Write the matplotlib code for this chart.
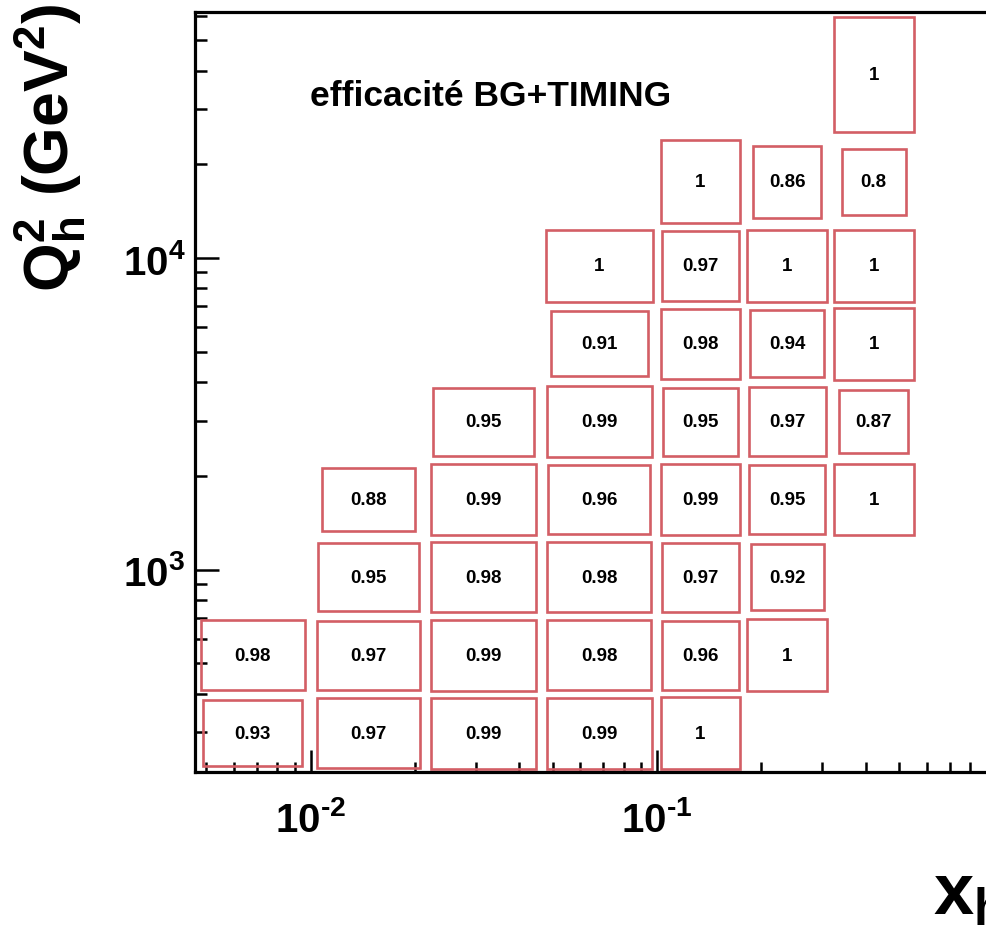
import numpy as np
import matplotlib
matplotlib.use("Agg")
import matplotlib.pyplot as plt
from matplotlib.patches import Rectangle
from matplotlib.ticker import LogLocator, NullFormatter, FixedLocator, FixedFormatter

# ---------------- data ----------------
x_edges = [0.00464, 0.0100, 0.0215, 0.0464, 0.100, 0.178, 0.316, 0.562]
q2_edges = [224, 398, 708, 1259, 2239, 3981, 7079, 12589, 24547, 61660]

# efficiency per (Q2 row from bottom, x column from left); None = empty cell
eff = [
    [0.93, 0.97, 0.99, 0.99, 1.00, None, None],
    [0.98, 0.97, 0.99, 0.98, 0.96, 1.00, None],
    [None, 0.95, 0.98, 0.98, 0.97, 0.92, None],
    [None, 0.88, 0.99, 0.96, 0.99, 0.95, 1.00],
    [None, None, 0.95, 0.99, 0.95, 0.97, 0.87],
    [None, None, None, 0.91, 0.98, 0.94, 1.00],
    [None, None, None, 1.00, 0.97, 1.00, 1.00],
    [None, None, None, None, 1.00, 0.86, 0.80],
    [None, None, None, None, None, None, 1.00],
]

x_ticks = [0.01, 0.1]
x_ticklabels = ["$\\mathbf{10^{\u2010 2}}$", "$\\mathbf{10^{\u2010 1}}$"]
y_ticks = [1000, 10000]
y_ticklabels = [r"$\mathbf{10^{3}}$", r"$\mathbf{10^{4}}$"]
title_text = "efficacité BG+TIMING"
xlabel_text = r"$\mathbf{x_{h}}$"
ylabel_text = r"$\mathbf{Q_{h}^{2}\ (GeV^{2})}$"

# ---------------- style ----------------
plt.rcParams["font.family"] = ["Liberation Sans", "DejaVu Sans"]
plt.rcParams["font.weight"] = "bold"
plt.rcParams["mathtext.fontset"] = "custom"
plt.rcParams["mathtext.rm"] = "Liberation Sans:bold"
plt.rcParams["mathtext.bf"] = "Liberation Sans:bold"
plt.rcParams["mathtext.it"] = "Liberation Sans:bold"
plt.rcParams["axes.unicode_minus"] = False

BOX_SCALE = 0.92
BOX_COLOR = "#d35e65"

W, H = 986, 928
fig = plt.figure(figsize=(W / 100, H / 100), dpi=100)
ax_left, ax_right, ax_top, ax_bot = 195, 1003.7, 13, 773
ax = fig.add_axes([ax_left / W, (H - ax_bot) / H, (ax_right - ax_left) / W, (ax_bot - ax_top) / H])
ax.set_xscale("log")
ax.set_yscale("log")
ax.set_xlim(x_edges[0], 1.0)
ax.set_ylim(q2_edges[0], q2_edges[-1])

lx = np.log10(x_edges)
ly = np.log10(q2_edges)
for i, row in enumerate(eff):
    for j, v in enumerate(row):
        if v is None:
            continue
        cx = 0.5 * (lx[j] + lx[j + 1])
        cy = 0.5 * (ly[i] + ly[i + 1])
        hx = 0.5 * (lx[j + 1] - lx[j]) * BOX_SCALE * v
        hy = 0.5 * (ly[i + 1] - ly[i]) * BOX_SCALE * v
        x0, x1 = 10 ** (cx - hx), 10 ** (cx + hx)
        y0, y1 = 10 ** (cy - hy), 10 ** (cy + hy)
        ax.add_patch(Rectangle((x0, y0), x1 - x0, y1 - y0, fill=False,
                               edgecolor=BOX_COLOR, linewidth=1.9, zorder=2))
        ax.text(10 ** cx, 10 ** cy, f"{v:g}", ha="center", va="center",
                fontsize=13.5, fontweight="bold", color="black", zorder=3)

# spines
for s in ["left", "bottom", "top", "right"]:
    ax.spines[s].set_linewidth(2.3)
    ax.spines[s].set_color("black")

# ticks
ax.xaxis.set_major_locator(FixedLocator(x_ticks))
ax.xaxis.set_major_formatter(FixedFormatter(x_ticklabels))
ax.yaxis.set_major_locator(FixedLocator(y_ticks))
ax.yaxis.set_major_formatter(FixedFormatter(y_ticklabels))
ax.xaxis.set_minor_locator(LogLocator(base=10, subs=np.arange(2, 10), numticks=20))
ax.yaxis.set_minor_locator(LogLocator(base=10, subs=np.arange(2, 10), numticks=20))
ax.xaxis.set_minor_formatter(NullFormatter())
ax.yaxis.set_minor_formatter(NullFormatter())
ax.tick_params(axis="x", which="major", direction="in", length=15.5, width=1.8,
               top=False, labelsize=29, pad=20)
ax.tick_params(axis="x", which="minor", direction="in", length=7.5, width=1.8, top=False)
ax.tick_params(axis="y", which="major", direction="in", length=17, width=1.8,
               right=False, labelsize=29, pad=7)
ax.tick_params(axis="y", which="minor", direction="in", length=8.5, width=1.8, right=False)

# title text inside frame
ax.text(310 / W, 1 - 106 / H, title_text, transform=fig.transFigure, ha="left",
        va="baseline", fontsize=25.5, fontweight="bold")

# axis labels
ax.set_xlabel(xlabel_text, fontsize=52, ha="right", va="baseline")
ax.xaxis.set_label_coords(1.0, (ax_bot - 915) / (ax_bot - ax_top))
ax.set_ylabel(ylabel_text, fontsize=45, ha="left", va="center")
ax.yaxis.set_label_coords((50 - ax_left) / (ax_right - ax_left), (ax_bot - 292) / (ax_bot - ax_top))

fig.savefig("out.png", dpi=100)
